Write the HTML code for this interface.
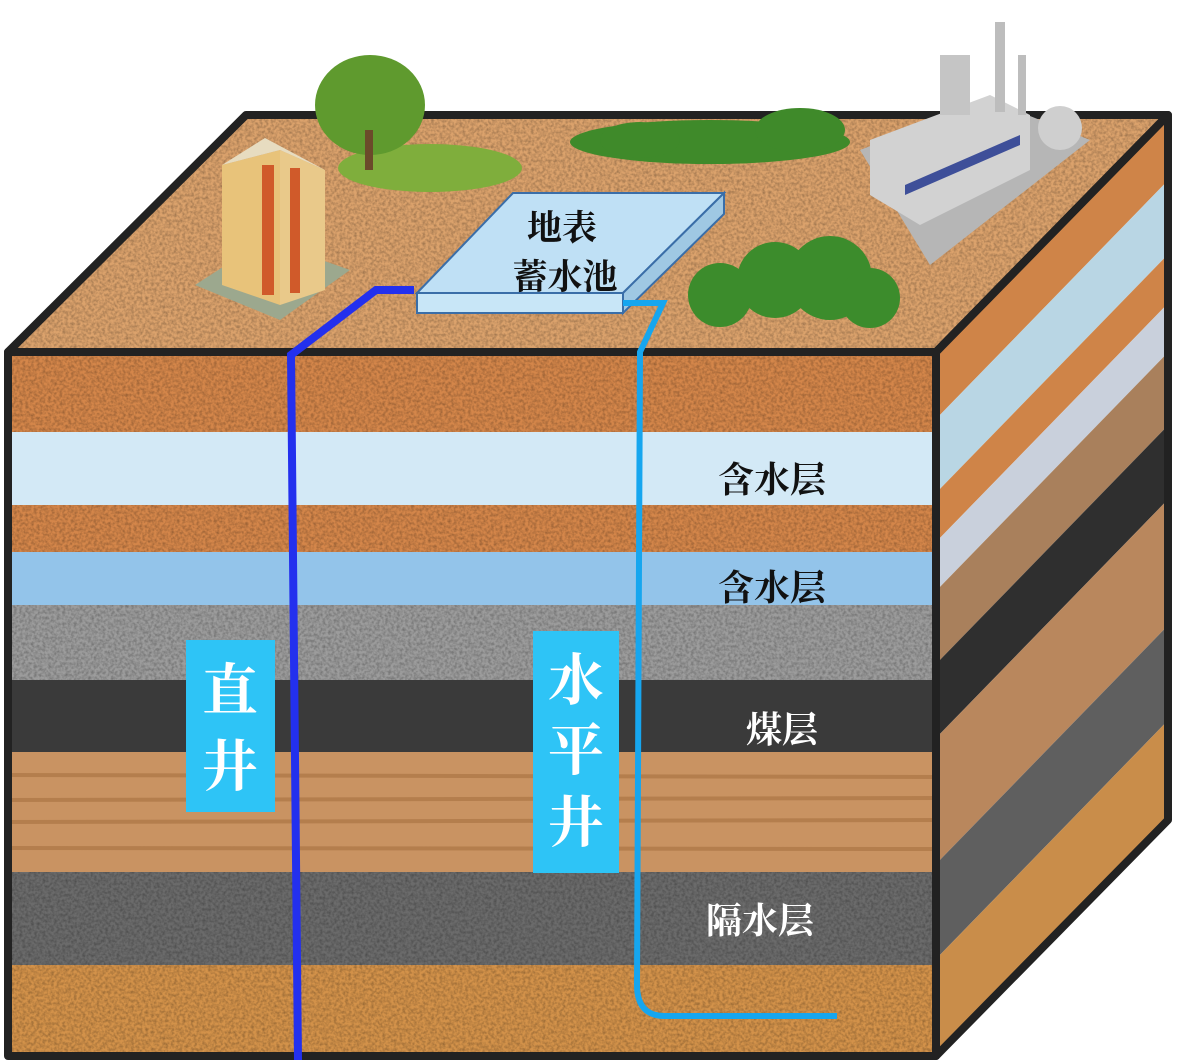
<!DOCTYPE html>
<html><head><meta charset="utf-8"><style>
html,body{margin:0;padding:0;background:#fff;width:1180px;height:1064px;overflow:hidden}
svg{display:block}
.t{font-family:"Liberation Serif","Noto Serif CJK SC",serif;font-weight:bold}
</style></head><body>
<svg width="1180" height="1064" viewBox="0 0 1180 1064" xmlns="http://www.w3.org/2000/svg">
<defs>
<filter id="n" x="0" y="0" width="100%" height="100%">
<feTurbulence type="fractalNoise" baseFrequency="0.35" numOctaves="2" seed="3" result="t"/>
<feColorMatrix type="matrix" values="0 0 0 0 0  0 0 0 0 0  0 0 0 0 0  0 0 0 -1.6 1.05" in="t" result="a"/>
<feComposite in="a" in2="SourceGraphic" operator="in"/>
</filter>
<clipPath id="front"><rect x="8" y="352" width="928" height="708"/></clipPath>
<clipPath id="right"><polygon points="936,352 1168,115 1168,820 936,1060"/></clipPath>
</defs>

<!-- top face -->
<polygon points="8,352 246,115 1168,115 936,352" fill="#dba26c"/>
<polygon points="8,352 246,115 1168,115 936,352" fill="#000" opacity="0.3" filter="url(#n)"/>

<!-- front layers -->
<g clip-path="url(#front)">
<rect x="8" y="352" width="928" height="80" fill="#d4864a"/>
<rect x="8" y="432" width="928" height="73" fill="#d3e9f6"/>
<rect x="8" y="505" width="928" height="47" fill="#d4864a"/>
<rect x="8" y="552" width="928" height="53" fill="#93c4ea"/>
<rect x="8" y="605" width="928" height="75" fill="#9c9c9c"/>
<rect x="8" y="680" width="928" height="72" fill="#3a3a3a"/>
<rect x="8" y="752" width="928" height="120" fill="#c99362"/>
<rect x="8" y="872" width="928" height="93" fill="#6b6b6b"/>
<rect x="8" y="965" width="928" height="95" fill="#d3924a"/>
<rect x="8" y="352" width="928" height="80" fill="#3a1d00" opacity="0.3" filter="url(#n)"/>
<rect x="8" y="505" width="928" height="47" fill="#3a1d00" opacity="0.3" filter="url(#n)"/>
<rect x="8" y="605" width="928" height="75" fill="#222" opacity="0.3" filter="url(#n)"/>
<rect x="8" y="872" width="928" height="93" fill="#111" opacity="0.3" filter="url(#n)"/>
<rect x="8" y="965" width="928" height="95" fill="#3a1d00" opacity="0.3" filter="url(#n)"/>
<g stroke="#a06a3a" stroke-width="4" opacity="0.5">
<line x1="8" y1="775" x2="936" y2="777"/><line x1="8" y1="800" x2="936" y2="798"/><line x1="8" y1="822" x2="936" y2="820"/><line x1="8" y1="848" x2="936" y2="849"/>
</g>
</g>

<!-- right face -->
<g clip-path="url(#right)">
<g transform="translate(936,0) skewY(-45.8)">
<rect x="0" y="300" width="240" height="119" fill="#cf8448"/>
<rect x="0" y="419" width="240" height="74" fill="#b9d6e4"/>
<rect x="0" y="493" width="240" height="49" fill="#cf8448"/>
<rect x="0" y="542" width="240" height="49" fill="#c9d0dc"/>
<rect x="0" y="591" width="240" height="73" fill="#a9805c"/>
<rect x="0" y="664" width="240" height="74" fill="#2f2f2f"/>
<rect x="0" y="738" width="240" height="126" fill="#b9875d"/>
<rect x="0" y="864" width="240" height="95" fill="#5f5f5f"/>
<rect x="0" y="959" width="240" height="140" fill="#c98d4a"/>
</g>
</g>

<!-- edges -->
<g fill="none" stroke="#222" stroke-width="8" stroke-linejoin="round">
<polygon points="8,352 246,115 1168,115 936,352"/>
<rect x="8" y="352" width="928" height="704"/>
<polygon points="936,352 1168,115 1168,820 936,1056"/>
</g>

<!-- trees / decorations -->
<ellipse cx="430" cy="168" rx="92" ry="24" fill="#7fae3c"/>
<ellipse cx="370" cy="105" rx="55" ry="50" fill="#5f9a2e"/>
<rect x="365" y="130" width="8" height="40" fill="#6b4a2a"/>
<g fill="#3f8a2a">
<ellipse cx="710" cy="142" rx="140" ry="22"/>
<ellipse cx="640" cy="140" rx="40" ry="18"/><ellipse cx="800" cy="130" rx="45" ry="22"/>
</g>
<g fill="#3c8c2c">
<circle cx="720" cy="295" r="32"/><circle cx="775" cy="280" r="38"/><circle cx="830" cy="278" r="42"/><circle cx="870" cy="298" r="30"/>
</g>
<!-- building -->
<polygon points="195,285 280,320 350,270 265,240" fill="#9ca88e"/>
<polygon points="222,165 280,150 280,305 222,285" fill="#e8c37a"/>
<polygon points="280,150 325,170 325,290 280,305" fill="#e9c98a"/>
<rect x="262" y="165" width="12" height="130" fill="#d05a2a"/>
<rect x="290" y="168" width="10" height="125" fill="#d05a2a"/>
<polygon points="222,165 265,138 325,170 280,150" fill="#e7dcc0"/>
<!-- factory -->
<polygon points="860,150 990,100 1090,140 930,265" fill="#b6b6b6"/>
<polygon points="870,140 990,95 1030,115 1030,170 920,225 870,195" fill="#d2d2d2"/>
<polygon points="905,185 1020,135 1020,145 905,195" fill="#3e4f99"/>
<rect x="940" y="55" width="30" height="60" fill="#c5c5c5"/>
<rect x="995" y="22" width="10" height="90" fill="#bdbdbd"/>
<rect x="1018" y="55" width="8" height="60" fill="#bdbdbd"/>
<circle cx="1060" cy="128" r="22" fill="#cfcfcf"/>

<!-- pond -->
<polygon points="417,293 513,193 724,193 623,293" fill="#bfe0f5" stroke="#3a6ea8" stroke-width="2"/>
<polygon points="623,293 724,193 724,214 623,313" fill="#9fc8e3" stroke="#3a6ea8" stroke-width="2"/>
<rect x="417" y="293" width="206" height="20" fill="#c8e6f7" stroke="#3a6ea8" stroke-width="2"/>
<text class="t" x="562" y="240" font-size="35" text-anchor="middle" fill="#111">地表</text>
<text class="t" x="565" y="289" font-size="35" text-anchor="middle" fill="#111">蓄水池</text>

<!-- wells -->
<polyline points="414,290 376,290 291,355 298,1060" fill="none" stroke="#2330ee" stroke-width="8"/>
<path d="M623,303 L663,303 L640,352 L637,985 Q637,1016 665,1016 L837,1016" fill="none" stroke="#16a6ef" stroke-width="6"/>

<!-- labels -->
<rect x="186" y="640" width="89" height="172" fill="#2ec4f6"/>
<text class="t" x="230" y="710" font-size="56" text-anchor="middle" fill="#fff">直</text>
<text class="t" x="230" y="786" font-size="56" text-anchor="middle" fill="#fff">井</text>
<rect x="533" y="631" width="86" height="242" fill="#2ec4f6"/>
<text class="t" x="576" y="700" font-size="56" text-anchor="middle" fill="#fff">水</text>
<text class="t" x="576" y="770" font-size="56" text-anchor="middle" fill="#fff">平</text>
<text class="t" x="576" y="842" font-size="56" text-anchor="middle" fill="#fff">井</text>

<text class="t" x="772" y="492" font-size="36" text-anchor="middle" fill="#111">含水层</text>
<text class="t" x="772" y="600" font-size="36" text-anchor="middle" fill="#111">含水层</text>
<text class="t" x="782" y="742" font-size="36" text-anchor="middle" fill="#fff">煤层</text>
<text class="t" x="760" y="933" font-size="36" text-anchor="middle" fill="#fff">隔水层</text>
</svg>
</body></html>
